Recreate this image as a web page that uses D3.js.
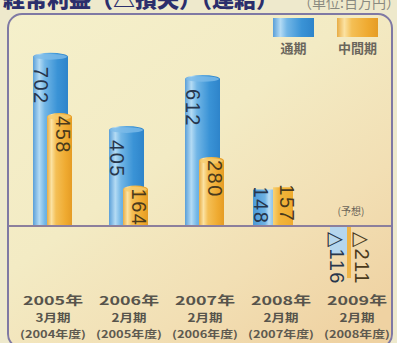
<!DOCTYPE html>
<html>
<head>
<meta charset="utf-8">
<script src="https://cdn.jsdelivr.net/npm/d3@7/dist/d3.min.js"></script>
<style>
  html, body { margin: 0; padding: 0; background: #eee9cc; }
  svg { display: block; }
</style>
</head>
<body>
<svg id="chart" width="397" height="343"></svg>
<script>
// 経常利益（△損失）（連結）, 単位: 百万円
const periods     = ["2005年", "2006年", "2007年", "2008年", "2009年"];
const periodMonth = ["3月期", "2月期", "2月期", "2月期", "2月期"];
const fiscalYear  = ["(2004年度)", "(2005年度)", "(2006年度)", "(2007年度)", "(2008年度)"];
const fullYear    = [702, 405, 612, 148, -116];   // 通期
const interim     = [458, 164, 280, 157, -211];   // 中間期
const seriesNames = ["通期", "中間期"];
const forecastNote = "(予想)";

// per-group bar geometry (offsets from group centre, px)
const tall  = { blue: [-20, 15], orange: [-6, 19], bl: -12, ol: 10, cap: true };
const small = { blue: [-28, -8], orange: [-8, 12], bl: -20, ol: 6,  cap: false };
const neg   = { blue: [-27, -10], orange: [-10, -6], bl: -20, ol: 5, cap: false, pale: true };
const barLayout = [tall, tall, tall, small, neg];

const svg = d3.select("#chart");
const W = 397, H = 343;

const defs = svg.append("defs");
function hGrad(id, stops) {
  const g = defs.append("linearGradient").attr("id", id)
    .attr("x1", "0%").attr("x2", "100%").attr("y1", "0%").attr("y2", "0%");
  stops.forEach(([o, c]) => g.append("stop").attr("offset", o).attr("stop-color", c));
}
hGrad("blueCyl", [["0%", "#5a9fd8"], ["18%", "#b4dbf4"], ["34%", "#72b6e6"], ["70%", "#3a93d6"], ["100%", "#2e84ca"]]);
hGrad("orangeCyl", [["0%", "#e8ac45"], ["18%", "#fbe2a2"], ["36%", "#f4bf55"], ["75%", "#efaa30"], ["100%", "#e59c25"]]);
hGrad("blueFlat", [["0%", "#4a98d6"], ["60%", "#6fb3e4"], ["80%", "#b9dcf3"], ["100%", "#8cc3ea"]]);
hGrad("orangeFlat", [["0%", "#f7d278"], ["30%", "#f2b53c"], ["100%", "#eeab2e"]]);

const bgGrad = defs.append("linearGradient").attr("id", "panelBg")
  .attr("x1", "0%").attr("y1", "0%").attr("x2", "85%").attr("y2", "100%");
[["0%", "#f5f0cb"], ["45%", "#f3ebc4"], ["75%", "#f2dfb4"], ["100%", "#efd2a2"]]
  .forEach(([o, c]) => bgGrad.append("stop").attr("offset", o).attr("stop-color", c));

// page background
svg.append("rect").attr("width", W).attr("height", H).attr("fill", "#eee9cc");

// title (runs off the top edge)
svg.append("text").attr("x", 3).attr("y", 7)
  .attr("font-family", "Noto Sans CJK JP").attr("font-weight", 900)
  .attr("font-size", 22).attr("fill", "#2b2e6c")
  .text("経常利益（△損失）（連結）");
svg.append("text").attr("x", 298).attr("y", 8)
  .attr("font-family", "Noto Sans CJK JP").attr("font-size", 14).attr("fill", "#8a8a80")
  .text("（単位:百万円）");

// rounded panel
svg.append("rect").attr("x", 8).attr("y", 14).attr("width", 384).attr("height", 334)
  .attr("rx", 14).attr("ry", 14)
  .attr("fill", "url(#panelBg)").attr("stroke", "#7f79a4").attr("stroke-width", 2);

// scales
const x = d3.scalePoint().domain(periods).range([53, 357]);
const y = d3.scaleLinear().domain([-300, 750]).range([300, 41]);
const y0 = y(0);

const g = svg.append("g");

// bars
periods.forEach((p, i) => {
  const c = x(p), L = barLayout[i];
  const pairs = [
    { v: fullYear[i], span: L.blue, kind: "blue" },
    { v: interim[i], span: L.orange, kind: "orange" }
  ];
  pairs.forEach(b => {
    const x0 = c + b.span[0], x1 = c + b.span[1];
    const yt = Math.min(y(b.v), y0), yb = Math.max(y(b.v), y0);
    let fill;
    if (L.pale) fill = b.kind === "blue" ? "#b5d6ee" : "#efb445";
    else fill = L.cap ? `url(#${b.kind}Cyl)` : `url(#${b.kind}Flat)`;
    if (L.cap) {
      const rx = (x1 - x0) / 2, ry = 4;
      g.append("path")
        .attr("d", `M${x0},${yb} L${x0},${yt + ry} A${rx},${ry} 0 0 1 ${x1},${yt + ry} L${x1},${yb} Z`)
        .attr("fill", fill);
      g.append("ellipse").attr("cx", (x0 + x1) / 2).attr("cy", yt + ry)
        .attr("rx", rx - 1).attr("ry", ry - 1.2)
        .attr("fill", b.kind === "blue" ? "#7dbbe8" : "#f6cd70").attr("opacity", 0.8);
    } else {
      g.append("rect").attr("x", x0).attr("y", yt)
        .attr("width", x1 - x0).attr("height", yb - yt).attr("fill", fill);
    }
  });
});

// zero line
svg.append("line").attr("x1", 9).attr("x2", 391).attr("y1", y0).attr("y2", y0)
  .attr("stroke", "#8c7f9c").attr("stroke-width", 2);

// value labels, rotated to read downward
function fmt(v) { return v < 0 ? "△" + Math.abs(v) : String(v); }
periods.forEach((p, i) => {
  const c = x(p), L = barLayout[i];
  [[fullYear[i], L.bl, "#27364c", 14], [interim[i], L.ol, "#4a3a1c", 3]].forEach(([v, dx, col, pad]) => {
    let start;
    if (v < 0) start = y0 + 6;
    else if (L.cap) start = y(v) + pad;
    else start = y(v) - 3;
    svg.append("text")
      .attr("transform", `translate(${c + dx},${start}) rotate(90)`)
      .attr("text-anchor", "start").attr("dominant-baseline", "central")
      .attr("font-family", "Liberation Sans, Arial, sans-serif")
      .attr("font-size", 20).attr("letter-spacing", 1.5)
      .attr("fill", col).text(fmt(v));
  });
});

// forecast note
svg.append("text").attr("x", x(periods[4]) - 6).attr("y", 215)
  .attr("text-anchor", "middle").attr("font-family", "Noto Sans CJK JP")
  .attr("font-size", 10).attr("fill", "#6a6458").text(forecastNote);

// category labels (three lines per period)
const catFont = "Noto Sans CJK JP";
periods.forEach((p, i) => {
  const c = x(p);
  svg.append("text").attr("x", c).attr("y", 305).attr("text-anchor", "middle")
    .attr("font-family", catFont).attr("font-weight", 700).attr("font-size", 12)
    .attr("fill", "#57544c").attr("textLength", 60).attr("lengthAdjust", "spacingAndGlyphs")
    .text(p);
  svg.append("text").attr("x", c).attr("y", 322).attr("text-anchor", "middle")
    .attr("font-family", catFont).attr("font-weight", 700).attr("font-size", 11.5)
    .attr("fill", "#57544c").attr("textLength", 35).attr("lengthAdjust", "spacingAndGlyphs")
    .text(periodMonth[i]);
  svg.append("text").attr("x", c).attr("y", 338).attr("text-anchor", "middle")
    .attr("font-family", catFont).attr("font-weight", 700).attr("font-size", 10)
    .attr("fill", "#5e5a50").attr("textLength", 66).attr("lengthAdjust", "spacingAndGlyphs")
    .text(fiscalYear[i]);
});

// legend
const legend = [
  { name: seriesNames[0], x: 273, fill: "url(#blueCyl)" },
  { name: seriesNames[1], x: 337, fill: "url(#orangeCyl)" }
];
legend.forEach(l => {
  svg.append("rect").attr("x", l.x).attr("y", 18).attr("width", 41).attr("height", 19).attr("fill", l.fill);
  svg.append("text").attr("x", l.x + 20.5).attr("y", 53).attr("text-anchor", "middle")
    .attr("font-family", catFont).attr("font-weight", 700).attr("font-size", 13)
    .attr("fill", "#6a665c").text(l.name);
});
</script>
</body>
</html>
